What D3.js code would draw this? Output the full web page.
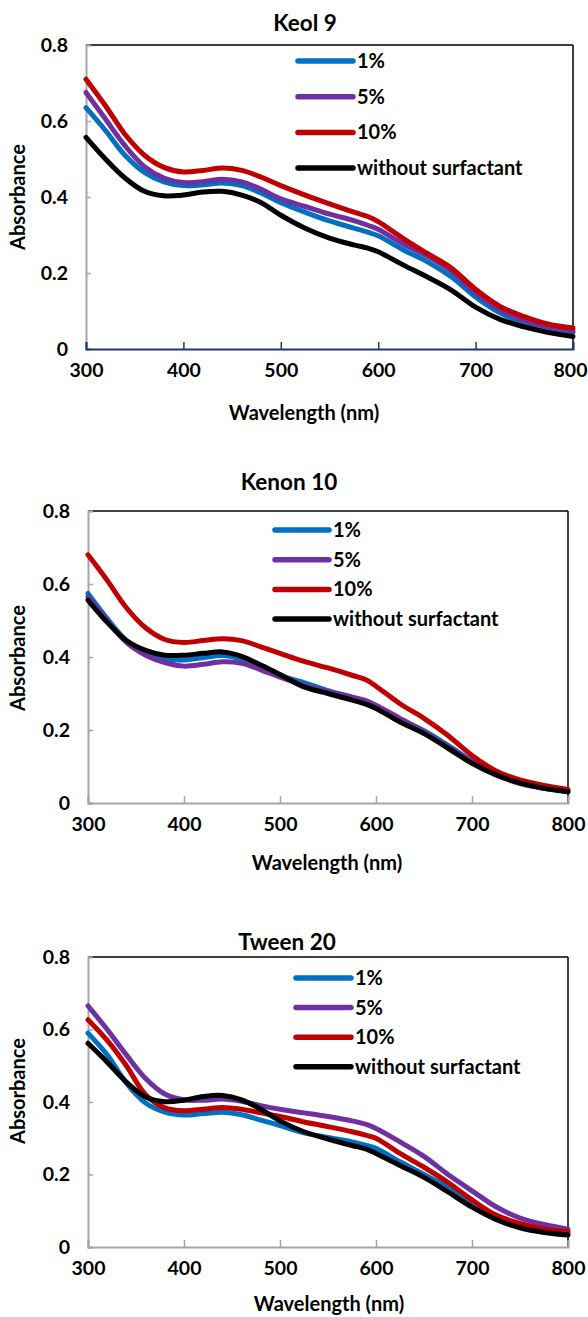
<!DOCTYPE html>
<html>
<head>
<meta charset="utf-8">
<script src="https://cdn.jsdelivr.net/npm/d3@7"></script>
<style>
  html, body { margin: 0; padding: 0; background: #fff; }
  svg { display: block; }
  text { font-family: Lato, "Open Sans", sans-serif; font-weight: bold; fill: #000; }
</style>
</head>
<body>
<svg id="chart" width="588" height="1317"></svg>
<script>
// ---------------- DATA ----------------
const wavelengths = [300,320,340,360,380,400,420,440,460,480,500,525,550,575,590,600,625,650,675,700,725,750,775,800];
const seriesNames = ["1%", "5%", "10%", "without surfactant"];
const xTicks = [300, 400, 500, 600, 700, 800];
const yTicks = [0, 0.2, 0.4, 0.6, 0.8];
const panelTitles = ["Keol 9", "Kenon 10", "Tween 20"];

// Keol 9
const keol9_1  = [.635,.575,.51,.465,.44,.43,.432,.437,.43,.41,.385,.36,.337,.318,.307,.298,.262,.23,.19,.137,.095,.068,.052,.044];
const keol9_5  = [.675,.605,.535,.48,.45,.438,.44,.447,.44,.42,.395,.375,.355,.338,.325,.315,.277,.245,.205,.147,.104,.075,.058,.048];
const keol9_10 = [.71,.64,.565,.51,.478,.466,.47,.476,.47,.452,.43,.405,.382,.36,.348,.335,.292,.252,.213,.157,.112,.085,.065,.055];
const keol9_0  = [.557,.5,.45,.415,.403,.405,.413,.415,.405,.385,.352,.318,.292,.274,.265,.256,.222,.19,.155,.11,.078,.058,.043,.033];

// Kenon 10
const kenon10_1  = [.574,.505,.445,.41,.395,.392,.398,.404,.395,.375,.35,.33,.308,.29,.278,.265,.23,.198,.158,.115,.08,.055,.041,.032];
const kenon10_5  = [.565,.5,.44,.405,.385,.375,.38,.387,.383,.365,.345,.323,.305,.29,.28,.268,.232,.195,.155,.113,.078,.053,.04,.031];
const kenon10_10 = [.68,.61,.535,.48,.448,.44,.445,.45,.445,.428,.41,.388,.37,.35,.337,.32,.272,.232,.185,.13,.088,.063,.048,.037];
const kenon10_0  = [.556,.495,.445,.418,.405,.405,.41,.414,.402,.378,.352,.318,.3,.282,.27,.259,.222,.19,.15,.109,.077,.055,.04,.031];

// Tween 20
const tween20_1  = [.59,.53,.452,.397,.372,.364,.368,.372,.365,.35,.335,.315,.302,.29,.28,.272,.235,.2,.165,.122,.085,.06,.046,.038];
const tween20_5  = [.665,.6,.53,.465,.422,.406,.405,.408,.402,.39,.38,.37,.36,.348,.338,.327,.29,.25,.2,.155,.111,.08,.062,.049];
const tween20_10 = [.627,.57,.5,.42,.384,.376,.38,.385,.38,.37,.36,.345,.332,.318,.308,.3,.258,.22,.178,.13,.088,.065,.05,.042];
const tween20_0  = [.562,.51,.455,.414,.401,.405,.415,.418,.406,.38,.348,.318,.298,.28,.27,.258,.225,.192,.152,.11,.076,.053,.04,.033];

// ---------------- STYLE / LAYOUT ----------------
const colors = ["#0070C0", "#7030A0", "#C00000", "#000000"];
const W = 588;

const panels = [
  { title: panelTitles[0], series: [keol9_1, keol9_5, keol9_10, keol9_0],
    left: 86, right: 573, top: 45, bottom: 349, titleX: 305, titleY: 31,
    legX: 298, legLen: 55, legY: 61, legStep: 35.7, bottomColor: "#1F3864",
    xTitleX: 304, xTitleY: 420, yTitleY: 197 },
  { title: panelTitles[1], series: [kenon10_1, kenon10_5, kenon10_10, kenon10_0],
    left: 88, right: 568, top: 511, bottom: 803, titleX: 289, titleY: 490,
    legX: 275, legLen: 54, legY: 530, legStep: 29.7, bottomColor: "#A6A6A6",
    xTitleX: 327, xTitleY: 870, yTitleY: 658 },
  { title: panelTitles[2], series: [tween20_1, tween20_5, tween20_10, tween20_0],
    left: 88, right: 568, top: 957, bottom: 1247, titleX: 287, titleY: 950,
    legX: 296, legLen: 55, legY: 978, legStep: 29.6, bottomColor: "#A6A6A6",
    xTitleX: 329, xTitleY: 1311, yTitleY: 1091 }
];

const svg = d3.select("#chart");

panels.forEach(p => {
  const g = svg.append("g");
  const x = d3.scaleLinear().domain([300, 800]).range([p.left, p.right]);
  const y = d3.scaleLinear().domain([0, 0.8]).range([p.bottom, p.top]);

  // top & right border
  g.append("line").attr("x1", p.left).attr("x2", p.right).attr("y1", p.top).attr("y2", p.top)
    .attr("stroke", "#000").attr("stroke-width", 1.5);
  g.append("line").attr("x1", p.right).attr("x2", p.right).attr("y1", p.top).attr("y2", p.bottom)
    .attr("stroke", "#000").attr("stroke-width", 1.5);

  // y axis
  const yAxis = d3.axisLeft(y).tickValues(yTicks).tickSize(-5).tickPadding(18)
    .tickFormat(d => d === 0 ? "0" : d3.format(".1f")(d));
  const ya = g.append("g").attr("transform", `translate(${p.left},0)`).call(yAxis);
  ya.select(".domain").attr("stroke", "#A6A6A6").attr("stroke-width", 2);
  ya.selectAll(".tick line").attr("stroke", "#A6A6A6").attr("stroke-width", 1.5);
  ya.selectAll(".tick text").attr("font-size", 19.5).attr("font-family", "Lato, sans-serif")
    .attr("font-weight", "bold").attr("fill", "#000");

  // x axis
  const xAxis = d3.axisBottom(x).tickValues(xTicks).tickSize(-7).tickPadding(14)
    .tickFormat(d3.format("d"));
  const xa = g.append("g").attr("transform", `translate(0,${p.bottom})`).call(xAxis);
  xa.select(".domain").attr("stroke", p.bottomColor).attr("stroke-width", 2);
  xa.selectAll(".tick line").attr("stroke", p.bottomColor).attr("stroke-width", 1.5);
  xa.selectAll(".tick text").attr("font-size", 19.5).attr("font-family", "Lato, sans-serif")
    .attr("font-weight", "bold").attr("fill", "#000").attr("dy", "0.71em")
    .each(function(d) {
      // keep the last label inside the page
      const half = this.getComputedTextLength() / 2;
      const overflow = x(d) + half - (W - 1);
      if (overflow > 0) d3.select(this).attr("dx", -overflow);
    });

  // series lines
  const line = d3.line().x((d, i) => x(wavelengths[i])).y(d => y(d)).curve(d3.curveCatmullRom.alpha(0.5));
  p.series.forEach((vals, i) => {
    g.append("path").datum(vals).attr("d", line)
      .attr("fill", "none").attr("stroke", colors[i]).attr("stroke-width", 5)
      .attr("stroke-linejoin", "round").attr("stroke-linecap", "round");
  });

  // legend
  seriesNames.forEach((name, i) => {
    const ly = p.legY + i * p.legStep;
    g.append("line").attr("x1", p.legX).attr("x2", p.legX + p.legLen).attr("y1", ly).attr("y2", ly)
      .attr("stroke", colors[i]).attr("stroke-width", 5.5).attr("stroke-linecap", "round");
    g.append("text").attr("x", p.legX + p.legLen + 4).attr("y", ly).attr("dy", "0.35em")
      .attr("font-size", 20).text(name);
  });

  // titles
  g.append("text").attr("x", p.titleX).attr("y", p.titleY).attr("text-anchor", "middle")
    .attr("font-size", 22.5).text(p.title);
  g.append("text").attr("x", p.xTitleX).attr("y", p.xTitleY).attr("text-anchor", "middle")
    .attr("font-size", 20).text("Wavelength (nm)");
  g.append("text").attr("transform", `translate(25,${p.yTitleY}) rotate(-90)`)
    .attr("text-anchor", "middle").attr("font-size", 20).text("Absorbance");
});
</script>
</body>
</html>
